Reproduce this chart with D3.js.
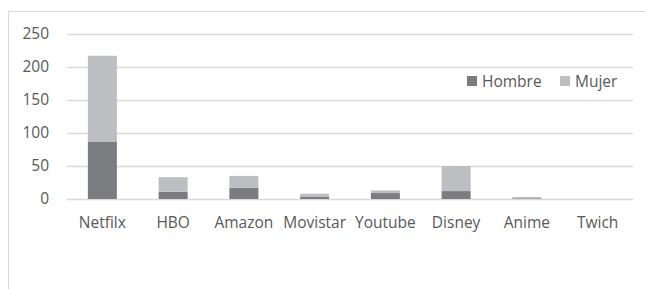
<!DOCTYPE html>
<html>
<head>
<meta charset="utf-8">
<script src="https://cdn.jsdelivr.net/npm/d3@7"></script>
<style>
  body { margin: 0; background: #fff; }
  text { font-family: "Open Sans", "Liberation Sans", sans-serif; fill: #595959; }
</style>
</head>
<body>
<svg id="chart" width="645" height="289"></svg>
<script>
// data
const categories = ["Netfilx", "HBO", "Amazon", "Movistar", "Youtube", "Disney", "Anime", "Twich"];
const hombre = [87, 11, 17, 3, 9, 12, 1, 0];
const mujer = [130, 22, 18, 5, 4, 38, 2, 0];
const seriesNames = ["Hombre", "Mujer"];
const yTicks = [0, 50, 100, 150, 200, 250];

const colors = ["#7b7c80", "#bdbec2"];

const svg = d3.select("#chart");

// outer frame
svg.append("rect")
    .attr("x", 8.5).attr("y", 11.5)
    .attr("width", 660).attr("height", 300)
    .attr("fill", "none")
    .attr("stroke", "#d9d9d9");

const x = d3.scaleBand()
    .domain(categories)
    .range([67, 633])
    .paddingInner(0.59)
    .paddingOuter(0.295);

const y = d3.scaleLinear()
    .domain([0, 250])
    .range([199, 34]);

// gridlines
svg.append("g")
    .selectAll("line")
    .data(yTicks)
    .enter().append("line")
      .attr("x1", 67).attr("x2", 633)
      .attr("y1", d => Math.round(y(d)) + 0.5)
      .attr("y2", d => Math.round(y(d)) + 0.5)
      .attr("stroke", "#d9d9d9")
      .attr("stroke-width", 1.3);

// y axis labels
const yAxis = d3.axisLeft(y).tickValues(yTicks).tickSize(0).tickPadding(18);
svg.append("g")
    .attr("transform", "translate(67,0)")
    .call(yAxis)
    .call(g => g.select(".domain").remove())
    .selectAll("text")
      .style("font-size", "15.5px")
      .attr("fill", "#595959");

// stacked bars
const table = categories.map((c, i) => ({cat: c, Hombre: hombre[i], Mujer: mujer[i]}));
const stacked = d3.stack().keys(seriesNames)(table);

svg.append("g")
  .selectAll("g")
  .data(stacked)
  .enter().append("g")
    .attr("fill", (d, i) => colors[i])
  .selectAll("rect")
  .data(d => d)
  .enter().append("rect")
    .attr("x", d => x(d.data.cat))
    .attr("width", x.bandwidth())
    .attr("y", d => y(d[1]))
    .attr("height", d => y(d[0]) - y(d[1]));

// x axis labels
const xAxis = d3.axisBottom(x).tickSize(0).tickPadding(18);
svg.append("g")
    .attr("transform", "translate(0,199)")
    .call(xAxis)
    .call(g => g.select(".domain").remove())
    .selectAll("text")
      .style("font-size", "15.5px")
      .attr("fill", "#595959");

// legend
const legendX = [467, 560];
const legend = svg.append("g");
seriesNames.forEach((name, i) => {
  legend.append("rect")
      .attr("x", legendX[i]).attr("y", 76)
      .attr("width", 10).attr("height", 10)
      .attr("fill", colors[i]);
  legend.append("text")
      .attr("x", legendX[i] + 15).attr("y", 86.5)
      .style("font-size", "15.5px")
      .text(name);
});
</script>
</body>
</html>
